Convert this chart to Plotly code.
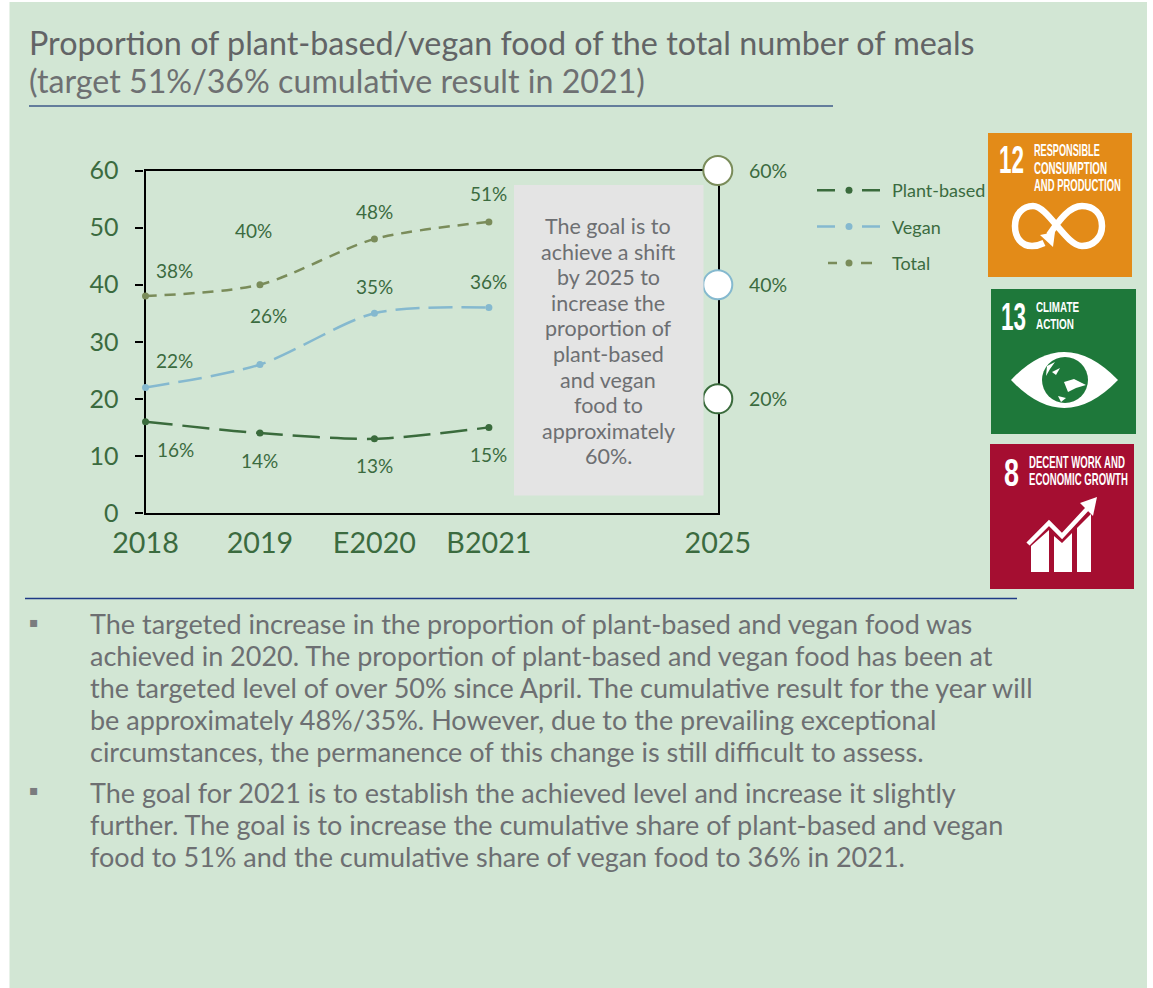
import json
import plotly.graph_objects as go

W, H = 1153, 988

# ---------- data ----------
categories = ["2018", "2019", "E2020", "B2021", "2025"]
cat_pos = [0, 1, 2, 3, 5]
observed_pos = [0, 1, 2, 3]
plant_based = [16, 14, 13, 15]
vegan = [22, 26, 35, 36]
total = [38, 40, 48, 51]
target_2025 = [20, 40, 60]
target_names = ["Plant-based", "Vegan", "Total"]
y_ticks = [0, 10, 20, 30, 40, 50, 60]

title_main = "Proportion of plant-based/vegan food of the total number of meals"
title_sub = "(target 51%/36% cumulative result in 2021)"
goal_lines = ["The goal is to", "achieve a shift", "by 2025 to", "increase the", "proportion of",
              "plant-based", "and vegan", "food to", "approximately", "60%."]
body_a = ["The targeted increase in the proportion of plant-based and vegan food was",
          "achieved in 2020. The proportion of plant-based and vegan food has been at",
          "the targeted level of over 50% since April. The cumulative result for the year will",
          "be approximately 48%/35%. However, due to the prevailing exceptional",
          "circumstances, the permanence of this change is still difficult to assess."]
body_b = ["The goal for 2021 is to establish the achieved level and increase it slightly",
          "further. The goal is to increase the cumulative share of plant-based and vegan",
          "food to 51% and the cumulative share of vegan food to 36% in 2021."]

# ---------- style ----------
FONT = "Lato"
TILE = "Liberation Sans"
GREEN = "#3B6B3F"
C_PLANT, C_VEGAN, C_TOTAL = "#3A6B3C", "#85B9CF", "#7A8C5A"
PANEL = "#D2E6D4"
GREY = "#6D6F72"
TILE_GREEN = "#1E783A"

# widths (px) the condensed tile lettering is fitted to after drawing
tile_widths = {"12": 25, "13": 25, "8": 15, "RESPONSIBLE": 66, "CONSUMPTION": 73, "AND PRODUCTION": 87,
               "CLIMATE": 43, "ACTION": 38, "DECENT WORK AND": 96, "ECONOMIC GROWTH": 99}


def fx(x):
    return x / W


def fy(y):
    return 1 - y / H


def pt(p):
    return f"{fx(p[0]):.5f},{fy(p[1]):.5f}"


def poly(*pts, close=True):
    return "M " + " L ".join(pt(p) for p in pts) + (" Z" if close else "")


def path(*items):
    return " ".join(it if isinstance(it, str) else pt(it) for it in items)


annotations = []


def txt(x, y, s, size, color=GREY, anchor="left", family=FONT):
    annotations.append(dict(x=fx(x), y=fy(y), xref="paper", yref="paper", text=s, showarrow=False,
                            xanchor=anchor, yanchor="middle", align=anchor,
                            font=dict(family=family, size=size, color=color)))


def value_label(xv, yv, dx, dy, color=GREEN):
    annotations.append(dict(x=xv, y=yv, xref="x", yref="y", text=f"{yv}%", showarrow=False,
                            xshift=dx, yshift=dy, font=dict(family=FONT, size=19, color=color)))


shapes = []


def rect(x0, y0, x1, y1, color, layer="below"):
    shapes.append(dict(type="rect", xref="paper", yref="paper", x0=fx(x0), x1=fx(x1), y0=fy(y0), y1=fy(y1),
                       fillcolor=color, line=dict(width=0), layer=layer))


def line(x0, y, x1, color, w):
    shapes.append(dict(type="line", xref="paper", yref="paper", x0=fx(x0), x1=fx(x1), y0=fy(y), y1=fy(y),
                       line=dict(color=color, width=w), layer="below"))


def draw(d, fill=None, stroke=None, w=0):
    shapes.append(dict(type="path", xref="paper", yref="paper", path=d, fillcolor=fill or "rgba(0,0,0,0)",
                       line=dict(color=stroke or "rgba(0,0,0,0)", width=w), layer="above"))


# ---------- traces ----------
fig = go.Figure()
series = [(plant_based, C_PLANT, "27px,10px"), (vegan, C_VEGAN, "24px,9px"), (total, C_TOTAL, "11px,8px")]
legend_dash = ["0px,6px,18px,27px,18px,40px", "0px,6px,18px,27px,18px,40px", "0px,17px,9px,24px,11px,40px"]
for vals, col, dash in series:
    fig.add_trace(go.Scatter(x=observed_pos, y=vals, mode="lines+markers", showlegend=False, cliponaxis=False,
                             line=dict(color=col, width=2.5, dash=dash, shape="spline", smoothing=0.8),
                             marker=dict(size=7, color=col)))
for name, (vals, col, dash), ld in zip(target_names, series, legend_dash):
    fig.add_trace(go.Scatter(x=[None], y=[None], mode="lines+markers", name=name, legendgroup=name,
                             line=dict(color=col, width=2.5, dash=ld), marker=dict(size=7, color=col)))
for tv, (vals, col, dash) in zip(target_2025, series):
    fig.add_trace(go.Scatter(x=[5], y=[tv], mode="markers", showlegend=False, cliponaxis=False,
                             marker=dict(size=29, color="white", line=dict(color=col, width=2))))
    annotations.append(dict(x=5, y=tv, xref="x", yref="y", text=f"{tv}%", showarrow=False, xanchor="left",
                            xshift=29, font=dict(family=FONT, size=19.5, color=GREEN)))

# data labels
offs_total = [(29, 26), (-6, 54), (0, 27), (0, 28)]
offs_vegan = [(29, 27), (9, 49), (0, 27), (0, 26)]
offs_plant = [(30, -28), (0, -27), (0, -27), (0, -27)]
for vals, offs in ((total, offs_total), (vegan, offs_vegan), (plant_based, offs_plant)):
    for xv, yv, (dx, dy) in zip(observed_pos, vals, offs):
        value_label(xv, yv, dx, dy)

# ---------- page furniture ----------
rect(9.5, 2, 1147, 988, PANEL)
rect(514, 185, 703.5, 495.5, "#E4E4E4", layer="above")
line(29, 106, 833, "#3F5A8A", 1.5)
line(25, 598.5, 1017, "#1F3A86", 1.5)

txt(27, 42.5, title_main, 32.3, "#626466")
txt(27, 80.5, title_sub, 32.2, "#6E7072")
for i, s in enumerate(goal_lines):
    txt(608, 226 + i * 25.6, s, 21.5, GREY, anchor="center")
for i, s in enumerate(body_a):
    txt(88, 623.5 + i * 32, s, 27, GREY)
for i, s in enumerate(body_b):
    txt(88, 792.5 + i * 32, s, 27, GREY)
txt(34, 622, "▪", 14, "#7A7C7E", anchor="center", family="DejaVu Sans")
txt(34, 790, "▪", 14, "#7A7C7E", anchor="center", family="DejaVu Sans")

# ---------- SDG tiles ----------
rect(988, 133, 1132, 277, "#E38B18", layer="above")
rect(991, 289, 1136, 434, TILE_GREEN, layer="above")
rect(990, 444, 1134, 589, "#A50E31", layer="above")

txt(997, 159, "<b>12</b>", 39, "white", family=TILE)
for y, s in zip((151, 168, 185), ("RESPONSIBLE", "CONSUMPTION", "AND PRODUCTION")):
    txt(1032, y, f"<b>{s}</b>", 16, "white", family=TILE)
# infinity with return arrow
draw(path("M", (1044, 243), "C", (1038, 246), (1033, 246), (1032, 246), "C", (1021, 246), (1015, 237), (1015, 226),
          "C", (1015, 214), (1023, 206), (1033, 206), "C", (1048, 206), (1066, 246), (1082, 246),
          "C", (1094, 246), (1102, 237), (1102, 226), "C", (1102, 214), (1094, 206), (1082, 206),
          "C", (1070, 206), (1060, 219), (1049, 235)), stroke="white", w=6.5)
draw(poly((1055, 232), (1040, 235), (1053, 247)), fill="white")

txt(999, 316, "<b>13</b>", 39, "white", family=TILE)
txt(1034, 306.5, "<b>CLIMATE</b>", 15.5, "white", family=TILE)
txt(1034, 323.5, "<b>ACTION</b>", 15.5, "white", family=TILE)
# eye with globe
draw(path("M", (1011, 380), "Q", (1064, 324), (1118, 380), "Q", (1064, 436), (1011, 380), "Z"), fill="white")
shapes.append(dict(type="circle", xref="paper", yref="paper", x0=fx(1042), x1=fx(1088), y0=fy(403), y1=fy(357),
                   fillcolor=TILE_GREEN, line=dict(width=0), layer="above"))
draw(poly((1047, 366), (1055, 362), (1050, 369), (1046, 376)), fill="white")
draw(poly((1052, 372), (1060, 368), (1056, 375)), fill="white")
draw(poly((1064, 382), (1074, 379), (1086, 385), (1076, 388), (1068, 392)), fill="white")
draw(poly((1058, 396), (1066, 398), (1061, 402)), fill="white")

txt(1002, 472, "<b>8</b>", 39, "white", family=TILE)
txt(1027, 462, "<b>DECENT WORK AND</b>", 16, "white", family=TILE)
txt(1027, 479, "<b>ECONOMIC GROWTH</b>", 16, "white", family=TILE)
# growth bars and arrow
draw(poly((1031, 572), (1031, 546), (1049, 530), (1049, 572)), fill="white")
draw(poly((1054, 572), (1054, 536), (1062, 543), (1072, 533), (1072, 572)), fill="white")
draw(poly((1077, 572), (1077, 528), (1091, 514), (1091, 572)), fill="white")
draw(poly((1028, 544), (1049, 523), (1062, 536), (1088, 508), close=False), stroke="white", w=4.5)
draw(poly((1097, 497), (1080, 503), (1093, 516)), fill="white")

# ---------- layout ----------
axis_common = dict(showline=True, linecolor="black", linewidth=2.2, mirror=True, showgrid=False, zeroline=False,
                   layer="below traces", automargin=False)
fig.update_layout(
    width=W, height=H, margin=dict(l=0, r=0, t=0, b=0, autoexpand=False), paper_bgcolor="white",
    plot_bgcolor="rgba(0,0,0,0)", showlegend=True, shapes=shapes, annotations=annotations,
    font=dict(family=FONT, color=GREEN),
    xaxis=dict(domain=[fx(145.5), fx(717.8)], range=[0, 5], tickmode="array", tickvals=cat_pos, ticktext=categories,
               ticks="", ticklabelstandoff=3, tickfont=dict(family=FONT, size=28.7, color=GREEN), **axis_common),
    yaxis=dict(domain=[fy(513), fy(170.5)], range=[0, 60], tickmode="array", tickvals=y_ticks, ticks="outside", ticklen=8,
               tickwidth=2, tickcolor="black", ticklabelstandoff=12,
               tickfont=dict(family=FONT, size=25, color=GREEN), **axis_common),
    legend=dict(x=fx(806), y=fy(172), xanchor="left", yanchor="top", bgcolor="rgba(0,0,0,0)", itemwidth=76,
                traceorder="grouped", tracegroupgap=10, font=dict(family=FONT, size=18, color=GREEN)),
)

fit_script = """
document.body.style.margin = '0';
document.documentElement.style.overflow = 'hidden';
var widths = %s;
document.querySelectorAll('text.annotation-text').forEach(function (t) {
  var target = widths[t.textContent];
  if (!target) return;
  var b = t.getBBox();
  var s = target / b.width;
  t.setAttribute('transform', 'matrix(' + s + ',0,0,1,' + (b.x * (1 - s)) + ',0)');
});
""" % json.dumps(tile_widths)

fig.write_html("out.html", config={"displayModeBar": False}, post_script=fit_script)
